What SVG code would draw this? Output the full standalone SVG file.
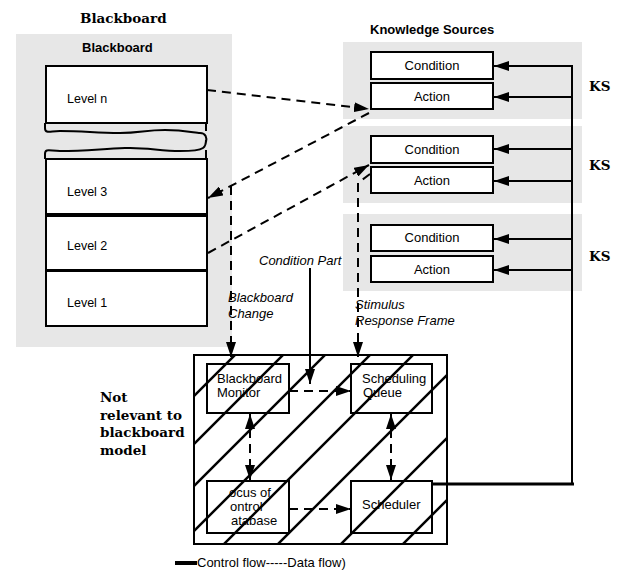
<svg xmlns="http://www.w3.org/2000/svg" width="625" height="574" viewBox="0 0 625 574">
<style>
.panel{fill:#e7e7e7;stroke:none}
.box{fill:#fff;stroke:#000;stroke-width:2}
.ibox{fill:none;stroke:#000;stroke-width:2}
.t{font-family:"Liberation Sans",Arial,sans-serif;font-size:13px;fill:#000}
.tb{font-family:"Liberation Sans",Arial,sans-serif;font-size:13px;font-weight:bold;fill:#000}
.ti{font-family:"Liberation Sans",Arial,sans-serif;font-size:13px;font-style:italic;fill:#000}
.sb{font-family:"DejaVu Serif","Liberation Serif",serif;font-size:13.5px;font-weight:bold;fill:#000}
.dash{fill:none;stroke:#000;stroke-width:2;stroke-dasharray:9,6}
.solid{fill:none;stroke:#000;stroke-width:2}
.hatch{stroke:#000;stroke-width:2.5}
.wave{fill:none;stroke:#000;stroke-width:2}
</style>
<defs>
<marker id="ah" markerUnits="userSpaceOnUse" markerWidth="16" markerHeight="10" refX="15" refY="5" orient="auto">
<path d="M0,0 L15,5 L0,10 Z" fill="#000"/>
</marker>
<marker id="ahs" markerUnits="userSpaceOnUse" markerWidth="16" markerHeight="10" refX="15" refY="5" orient="auto-start-reverse">
<path d="M0,0 L15,5 L0,10 Z" fill="#000"/>
</marker>
<clipPath id="hc"><rect x="195" y="356" width="251" height="188"/></clipPath>
</defs>
<rect width="625" height="574" fill="#fff"/>

<g id="blackboard">
<text class="sb" x="80" y="23">Blackboard</text>
<rect class="panel" x="16" y="34" width="216" height="313"/>
<text class="tb" x="82" y="52">Blackboard</text>
<g id="level-n"><rect class="box" x="46" y="66" width="161" height="57"/><text class="t" x="67" y="103" style="font-size:12.5px">Level n</text></g>
<g id="gap">
<path class="wave" d="M45,123 V128 C45,134 50,131 60,131 C85,131 95,133 120,133 C140,133 145,130 165,130 C185,130 195,133 200,133 C206,133 207,138 206,142 M206,123 V131"/>
<path class="wave" d="M45,159 V154 C45,148 50,151 60,151 C85,151 100,149 125,148 C145,147 160,151 180,151 C195,151 200,150 203,148 C206,146 206,141 206,140 M206,159 V150"/>
</g>
<g id="level-3"><rect class="box" x="46" y="159" width="161" height="55"/><text class="t" x="67" y="196" style="font-size:12.5px">Level 3</text></g>
<g id="level-2"><rect class="box" x="46" y="216" width="161" height="54"/><text class="t" x="67" y="250" style="font-size:12.5px">Level 2</text></g>
<g id="level-1"><rect class="box" x="46" y="271" width="161" height="55"/><text class="t" x="67" y="307" style="font-size:12.5px">Level 1</text></g>
</g>

<g id="knowledge-sources">
<text class="tb" x="370" y="34">Knowledge Sources</text>
<g id="ks1">
<rect class="panel" x="343" y="42" width="239" height="77"/>
<rect class="box" x="371" y="52" width="122" height="27"/><text class="t" x="432" y="70" text-anchor="middle">Condition</text>
<rect class="box" x="371" y="83" width="122" height="26"/><text class="t" x="432" y="101" text-anchor="middle">Action</text>
<text class="sb" x="589" y="91">KS</text>
</g>
<g id="ks2">
<rect class="panel" x="343" y="126" width="239" height="77"/>
<rect class="box" x="371" y="136" width="122" height="27"/><text class="t" x="432" y="154" text-anchor="middle">Condition</text>
<rect class="box" x="371" y="167" width="122" height="26"/><text class="t" x="432" y="185" text-anchor="middle">Action</text>
<text class="sb" x="589" y="170">KS</text>
</g>
<g id="ks3">
<rect class="panel" x="343" y="214" width="239" height="77"/>
<rect class="box" x="371" y="225" width="122" height="26"/><text class="t" x="432" y="242" text-anchor="middle">Condition</text>
<rect class="box" x="371" y="256" width="122" height="26"/><text class="t" x="432" y="274" text-anchor="middle">Action</text>
<text class="sb" x="589" y="261">KS</text>
</g>
</g>

<g id="not-relevant">
<text class="sb" x="100" y="402">Not</text>
<text class="sb" x="100" y="420">relevant to</text>
<text class="sb" x="100" y="437">blackboard</text>
<text class="sb" x="100" y="455">model</text>
</g>

<g id="control-unit">
<rect class="ibox" x="194" y="355" width="253" height="189"/>
<g id="bb-monitor"><rect class="ibox" x="207" y="364" width="82" height="49"/><text class="t" x="217" y="383">Blackboard</text><text class="t" x="217" y="397">Monitor</text></g>
<g id="scheduling-queue"><rect class="ibox" x="351" y="364" width="81" height="49"/><text class="t" x="362" y="383">Scheduling</text><text class="t" x="363" y="397">Queue</text></g>
<g id="focus-db"><rect class="ibox" x="207" y="481" width="82" height="52"/><text class="t" x="229" y="497">ocus of</text><text class="t" x="230" y="511">ontrol</text><text class="t" x="231" y="525">atabase</text></g>
<g id="scheduler"><rect class="ibox" x="351" y="481" width="81" height="52"/><text class="t" x="362" y="509">Scheduler</text></g>
<g id="hatching" clip-path="url(#hc)">
<line class="hatch" x1="250" y1="340" x2="30" y2="560"/>
<line class="hatch" x1="298" y1="340" x2="78" y2="560"/>
<line class="hatch" x1="340" y1="340" x2="120" y2="560"/>
<line class="hatch" x1="385" y1="340" x2="165" y2="560"/>
<line class="hatch" x1="428" y1="340" x2="208" y2="560"/>
<line class="hatch" x1="482" y1="340" x2="262" y2="560"/>
<line class="hatch" x1="545" y1="340" x2="325" y2="560"/>
<line class="hatch" x1="607" y1="340" x2="387" y2="560"/>
</g>
</g>

<g id="connectors">
<line class="dash" x1="207" y1="90" x2="369" y2="109" marker-end="url(#ah)"/>
<line class="dash" x1="369" y1="113" x2="208" y2="198" marker-end="url(#ah)"/>
<line class="dash" x1="231" y1="186" x2="231" y2="357" marker-end="url(#ah)"/>
<line class="dash" x1="208" y1="253" x2="369" y2="165" marker-end="url(#ah)"/>
<polyline class="dash" points="370,174 358,183 358,357" marker-end="url(#ah)"/>
<line class="solid" x1="310" y1="268" x2="310" y2="384" marker-end="url(#ah)"/>
<line class="dash" x1="289" y1="391" x2="351" y2="391" marker-end="url(#ah)"/>
<line class="dash" x1="250" y1="414" x2="250" y2="480" marker-start="url(#ahs)" marker-end="url(#ah)"/>
<line class="dash" x1="391" y1="414" x2="391" y2="480" marker-start="url(#ahs)" marker-end="url(#ah)"/>
<line class="dash" x1="289" y1="509" x2="351" y2="509" marker-end="url(#ah)"/>
<line x1="432" y1="484" x2="574" y2="484" stroke="#000" stroke-width="3"/>
<line class="solid" x1="572" y1="65" x2="572" y2="485"/>
<line class="solid" x1="572" y1="66" x2="494" y2="66" marker-end="url(#ah)"/>
<line class="solid" x1="572" y1="97" x2="494" y2="97" marker-end="url(#ah)"/>
<line class="solid" x1="572" y1="149" x2="494" y2="149" marker-end="url(#ah)"/>
<line class="solid" x1="572" y1="181" x2="494" y2="181" marker-end="url(#ah)"/>
<line class="solid" x1="572" y1="239" x2="494" y2="239" marker-end="url(#ah)"/>
<line class="solid" x1="572" y1="270" x2="494" y2="270" marker-end="url(#ah)"/>
</g>

<g id="labels">
<text class="ti" x="259" y="265">Condition Part</text>
<text class="ti" x="228" y="302">Blackboard</text>
<text class="ti" x="228" y="318">Change</text>
<text class="ti" x="355" y="309">Stimulus</text>
<text class="ti" x="355" y="325">Response Frame</text>
</g>

<g id="legend">
<line x1="175" y1="563" x2="197" y2="563" stroke="#000" stroke-width="4"/>
<text class="t" x="197" y="567">Control flow-----Data flow)</text>
</g>
</svg>
